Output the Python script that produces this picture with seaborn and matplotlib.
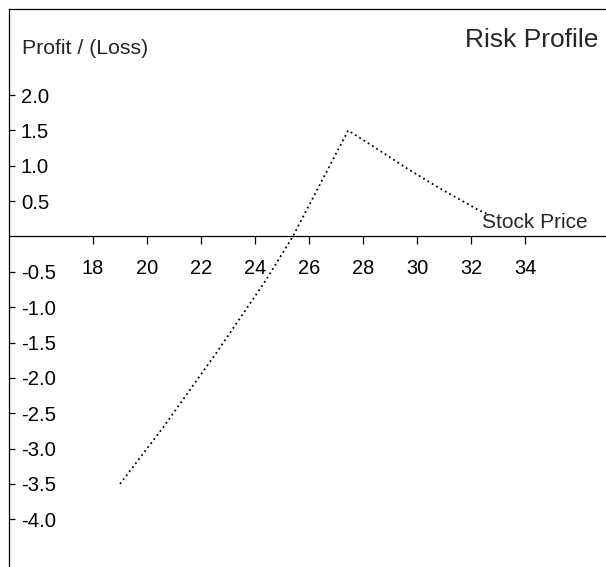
import matplotlib
matplotlib.use("Agg")
import matplotlib.pyplot as plt
import seaborn as sns
import pandas as pd

# Data
stock_price = [19.0, 20.6, 22.6, 24.4, 25.4, 27.45, 28.4, 29.6, 30.85, 32.3, 32.6]
profit_loss = [-3.5, -2.7, -1.63, -0.62, 0.0, 1.5, 1.27, 0.97, 0.68, 0.37, 0.32]
x_ticks = [18, 20, 22, 24, 26, 28, 30, 32, 34]
y_ticks = [2.0, 1.5, 1.0, 0.5, -0.5, -1.0, -1.5, -2.0, -2.5, -3.0, -3.5, -4.0]

sns.set_style("white")
plt.rcParams["font.family"] = ["Liberation Sans", "DejaVu Sans"]
plt.rcParams["axes.unicode_minus"] = False

df = pd.DataFrame({"price": stock_price, "pnl": profit_loss})

W, H = 606, 567
fig = plt.figure(figsize=(W / 100, H / 100), dpi=100)
ax = fig.add_axes([9 / W, 0, 1 - 9 / W, 1 - 9 / H])

sns.lineplot(data=df, x="price", y="pnl", ax=ax, color="black", sort=False,
             estimator=None, linewidth=1.3, linestyle=(0, (1, 1.8)))

ax.set_xlim(14.89, 37.0)
ax.set_ylim(-4.675, 3.218)

# Spines
ax.spines["left"].set_visible(False)
ax.spines["right"].set_position(("axes", 0))
ax.spines["bottom"].set_position(("data", 0))
for s in ["right", "bottom", "top"]:
    ax.spines[s].set_visible(True)
    ax.spines[s].set_color("black")
    ax.spines[s].set_linewidth(0.9)

ax.yaxis.tick_right()
ax.set_yticks(y_ticks)
ax.set_yticklabels([f"{v:.1f}" for v in y_ticks])
ax.tick_params(axis="y", which="major", right=True, left=False,
               labelright=True, labelleft=False,
               direction="out", length=4, width=0.9, pad=4.5,
               labelsize=14.6, colors="black")

ax.set_xticks(x_ticks)
ax.set_xticklabels([str(v) for v in x_ticks])
ax.tick_params(axis="x", which="major", bottom=True, top=False,
               direction="out", length=6, width=0.9, pad=10,
               labelsize=14.4, colors="black")

ax.set_xlabel("")
ax.set_ylabel("")

fig.text(22 / W, 1 - 48 / H, "Profit / (Loss)", fontsize=15.3, ha="left", va="center")
fig.text(598 / W, 1 - 40 / H, "Risk Profile", fontsize=19, ha="right", va="center")
fig.text(482 / W, 1 - 222 / H, "Stock Price", fontsize=15, ha="left", va="center")

fig.savefig("out.png", dpi=100)
